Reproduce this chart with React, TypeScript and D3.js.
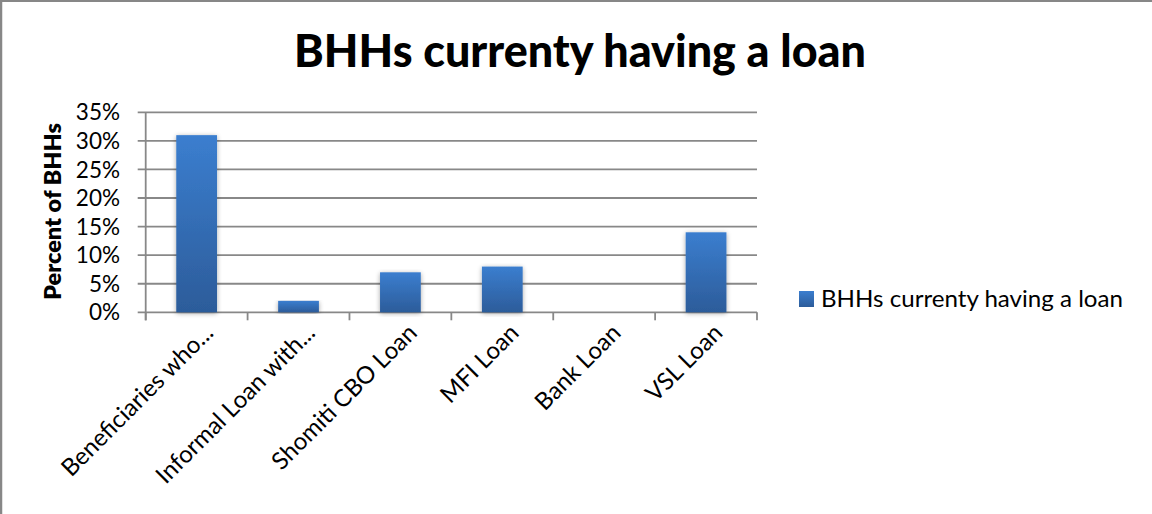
import React from "react";
import * as d3 from "d3";

const categories = [
  "Beneficiaries who...",
  "Informal Loan with...",
  "Shomiti CBO Loan",
  "MFI Loan",
  "Bank Loan",
  "VSL Loan",
];
const values = [0.31, 0.02, 0.07, 0.08, 0, 0.14];
const yTicks = [0, 0.05, 0.1, 0.15, 0.2, 0.25, 0.3, 0.35];
const title = "BHHs currenty having a loan";
const seriesName = "BHHs currenty having a loan";
const yLabel = "Percent of BHHs";

const W = 1152;
const H = 514;
const plot = { left: 145.7, right: 757, top: 112.3, bottom: 312.3 };
const FONT = "Lato, 'Open Sans', sans-serif";

export default function App() {
  const x = d3
    .scaleBand<string>()
    .domain(categories)
    .range([plot.left, plot.right])
    .paddingInner(0.6)
    .paddingOuter(0.3);
  const y = d3.scaleLinear().domain([0, 0.35]).range([plot.bottom, plot.top]);
  const fmt = d3.format(".0%");
  const step = x.step();
  const boundaries = d3.range(categories.length + 1).map((i) => plot.left + i * step);

  return (
    <div style={{ position: "fixed", left: 0, top: 0, width: W, height: H, background: "#fff" }}>
      <svg width={W} height={H} style={{ display: "block" }}>
        <defs>
          <linearGradient id="barGrad" x1="0" y1="0" x2="0" y2="1">
            <stop offset="0" stopColor="#3B7ECF" />
            <stop offset="1" stopColor="#2C5C9A" />
          </linearGradient>
          <filter id="shadow" x="-30%" y="-10%" width="160%" height="120%">
            <feGaussianBlur in="SourceAlpha" stdDeviation="2.5" />
            <feOffset dx="0" dy="1" result="b" />
            <feComponentTransfer>
              <feFuncA type="linear" slope="0.35" />
            </feComponentTransfer>
            <feMerge>
              <feMergeNode />
              <feMergeNode in="SourceGraphic" />
            </feMerge>
          </filter>
        </defs>
        <rect x={0} y={0} width={W} height={H} fill="#fff" />
        {/* outer border */}
        <line x1={0} x2={W} y1={1} y2={1} stroke="#878787" strokeWidth={2} />
        <line x1={1} x2={1} y1={0} y2={H} stroke="#878787" strokeWidth={2.5} />

        {/* title */}
        <text
          x={580}
          y={67}
          textAnchor="middle"
          fontFamily={FONT}
          fontWeight={900}
          fontSize={45}
          textLength={572}
          lengthAdjust="spacingAndGlyphs"
          fill="#000"
        >
          {title}
        </text>

        {/* gridlines */}
        {yTicks.map((t) => (
          <line
            key={"g" + t}
            x1={plot.left - 8}
            x2={plot.right}
            y1={y(t)}
            y2={y(t)}
            stroke="#888888"
            strokeWidth={1.8}
          />
        ))}
        {/* y axis line */}
        <line x1={plot.left} x2={plot.left} y1={plot.top} y2={plot.bottom + 8} stroke="#888888" strokeWidth={1.8} />
        {/* category ticks */}
        {boundaries.map((bx, i) => (
          <line key={"t" + i} x1={bx} x2={bx} y1={plot.bottom} y2={plot.bottom + 8} stroke="#888888" strokeWidth={1.8} />
        ))}

        {/* y tick labels */}
        {yTicks.map((t) => (
          <text
            key={"l" + t}
            x={120}
            y={y(t)}
            dy="0.36em"
            textAnchor="end"
            fontFamily={FONT}
            fontSize={22.5}
            fill="#000"
          >
            {fmt(t)}
          </text>
        ))}

        {/* y axis title */}
        <text
          transform={`translate(61, 211.5) rotate(-90)`}
          textAnchor="middle"
          fontFamily={FONT}
          fontWeight={800}
          fontSize={23}
          textLength={177}
          lengthAdjust="spacingAndGlyphs"
          fill="#000"
        >
          {yLabel}
        </text>

        {/* bars */}
        {categories.map((c, i) =>
          values[i] > 0 ? (
            <rect
              key={"b" + c}
              x={x(c)}
              y={y(values[i])}
              width={x.bandwidth()}
              height={plot.bottom - y(values[i])}
              fill="url(#barGrad)"
              filter="url(#shadow)"
            />
          ) : null
        )}

        {/* category labels */}
        {categories.map((c) => {
          const cx = (x(c) as number) + x.bandwidth() / 2;
          return (
            <text
              key={"c" + c}
              transform={`translate(${cx + 18}, ${plot.bottom + 22}) rotate(-45)`}
              textAnchor="end"
              fontFamily={FONT}
              fontSize={24}
              fill="#000"
            >
              {c}
            </text>
          );
        })}

        {/* legend */}
        <rect x={799} y={291} width={15} height={16} fill="url(#barGrad)" />
        <text x={821} y={306.5} fontFamily={FONT} fontSize={23} fill="#000" textLength={302} lengthAdjust="spacingAndGlyphs">
          {seriesName}
        </text>
      </svg>
    </div>
  );
}
